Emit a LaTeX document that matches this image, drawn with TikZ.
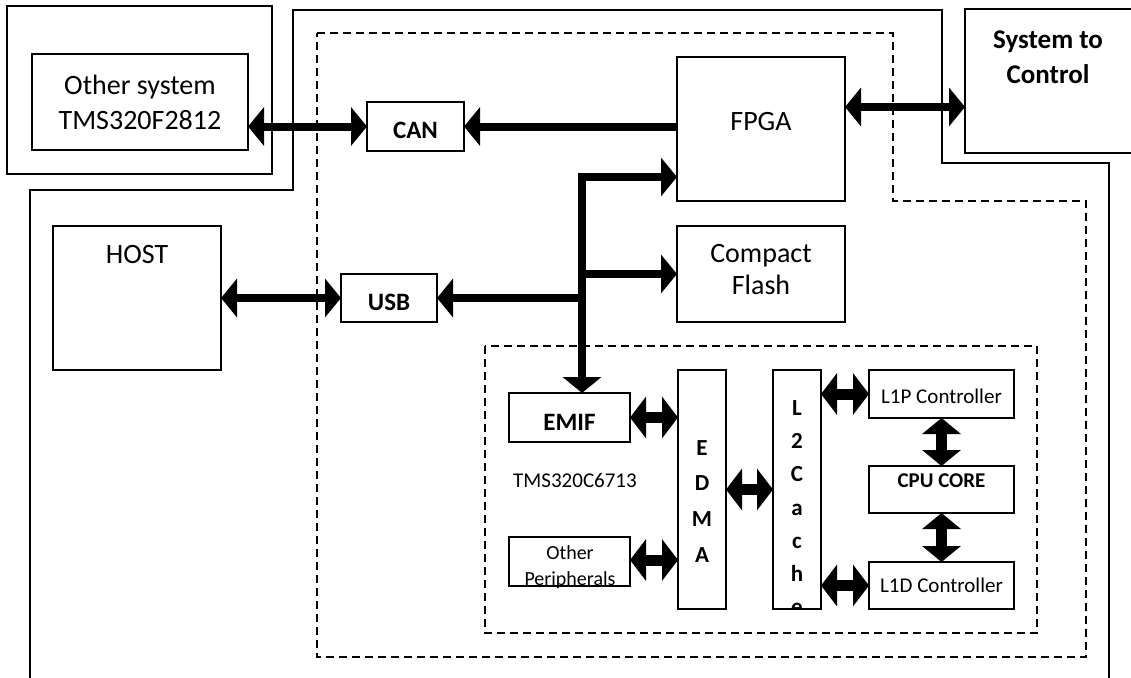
\documentclass[tikz,border=0pt]{standalone}
\usepackage{fontspec}
\setmainfont{Carlito}
\usetikzlibrary{arrows.meta,calc}
\tikzset{
  box/.style={draw, line width=1.2pt, rectangle, inner sep=0pt, outer sep=0pt, anchor=north west},
  frame/.style={line width=1.4pt},
  dashframe/.style={line width=1.2pt, dash pattern=on 8pt off 5pt},
  bigtip/.tip={Triangle[length=16pt,width=38pt]},
  blktip/.tip={Triangle[length=16pt,width=41pt]},
  fat/.style={line width=8pt},
  blk/.style={line width=11pt},
  lbl/.style={font=\fontsize{28}{35}\selectfont, align=center, inner sep=0pt},
  blbl/.style={font=\fontsize{25}{30}\selectfont\bfseries, align=center, inner sep=0pt},
  sm/.style={font=\fontsize{21}{26}\selectfont, align=center, inner sep=0pt},
  smb/.style={font=\fontsize{21}{26}\selectfont\bfseries, align=center, inner sep=0pt},
}
\begin{document}
\begin{tikzpicture}[x=1pt,y=-1pt]
\useasboundingbox (0,0) rectangle (1131,677);
\fill[white] (0,0) rectangle (1131,677);

% frames
\draw[frame] (30,690) -- (30,190) -- (293,190) -- (293,10) -- (942,10) -- (942,163) -- (1109,163) -- (1109,690);
\draw[dashframe] (317,33) -- (893,33) -- (893,201) -- (1086,201) -- (1086,657) -- (317,657) -- cycle;
\draw[dashframe] (485,346) rectangle (1037,633);

% boxes
\node[box, minimum width=265pt, minimum height=168pt] (othersys) at (7,6) {};
\node[box, minimum width=216pt, minimum height=96pt] (other) at (32,54) {};
\node[box, minimum width=97pt, minimum height=49pt] (can) at (367,102) {};
\node[box, minimum width=168pt, minimum height=144pt] (fpga) at (677,57) {};
\node[box, minimum width=175pt, minimum height=144pt] (sys) at (965,9) {};
\node[box, minimum width=168pt, minimum height=96pt] (cf) at (677,226) {};
\node[box, minimum width=96pt, minimum height=48pt] (usb) at (341,274) {};
\node[box, minimum width=168pt, minimum height=144pt] (host) at (53,226) {};
\node[box, minimum width=121pt, minimum height=49pt] (emif) at (509,393) {};
\node[box, minimum width=121pt, minimum height=49pt] (per) at (509,537) {};
\node[box, minimum width=48pt, minimum height=239pt] (edma) at (678,370) {};
\node[box, minimum width=48pt, minimum height=239pt] (l2) at (773,370) {};
\node[box, minimum width=145pt, minimum height=48pt] (l1p) at (869,370) {};
\node[box, minimum width=145pt, minimum height=47pt] (cpu) at (869,466) {};
\node[box, minimum width=145pt, minimum height=47pt] (l1d) at (869,562) {};

% texts
\node[lbl] (othertxt) at (other.center) {Other system\\TMS320F2812};
\node[blbl, font=\fontsize{27}{35}\selectfont\bfseries, anchor=north] (systxt) at (1048,31) {System to\\Control};
\node[lbl] (fpgatxt) at (761,122) {FPGA};
\node[lbl, font=\fontsize{28}{32}\selectfont, anchor=north] (cftxt) at (761,244) {Compact\\Flash};
\node[lbl, anchor=base] (hosttxt) at (137,263) {HOST};
\node[blbl, anchor=base] (cantxt) at (415.5,138) {CAN};
\node[blbl, anchor=base] (usbtxt) at (389,310) {USB};
\node[blbl, anchor=base] (emiftxt) at (569.5,430) {EMIF};
\node[sm] (dsptxt) at (575,480) {TMS320C6713};
\node[sm, font=\fontsize{20}{26}\selectfont] (pertxt) at (570,567) {Other\\Peripherals};
\node[smb, font=\fontsize{23}{35.7}\selectfont\bfseries, anchor=north] (edmatxt) at (702,440) {E\\D\\M\\A};
\begin{scope}
  \clip (l2.north west) rectangle (l2.south east);
  \node[smb, font=\fontsize{23}{33.3}\selectfont\bfseries, anchor=north] (l2txt) at (797,400) {L\\2\\C\\a\\c\\h\\e};
\end{scope}
\node[sm] (l1ptxt) at (941.5,396) {L1P Controller};
\node[smb] (cputxt) at (941.5,481) {CPU CORE};
\node[sm] (l1dtxt) at (941.5,585.5) {L1D Controller};

% connectors
\draw[fat, bigtip-bigtip] (other.east |- can.west) -- (can.west);
\draw[fat, -bigtip] (fpga.west |- can.east) -- (can.east);
\coordinate (fs) at ([yshift=22pt]fpga.east);
\draw[fat, bigtip-bigtip] (fs) -- (fs -| sys.west);
\draw[fat, bigtip-bigtip] (host.east) -- (usb.west);
\coordinate (bt) at (582,177);
\draw[fat, bigtip-bigtip, line join=miter] (bt |- emif.north) -- (bt) -- (bt -| fpga.west);
\draw[fat, -bigtip] (bt |- cf.west) -- (cf.west);
\draw[fat, -bigtip] (bt |- usb.east) -- (usb.east);

\draw[blk, blktip-blktip] (emif.east) -- (emif.east -| edma.west);
\draw[blk, blktip-blktip] ([yshift=1.5pt]per.east) -- ([yshift=1.5pt]per.east -| edma.west);
\draw[blk, blktip-blktip] (edma.east) -- (l2.west);
\draw[blk, blktip-blktip] (l1p.west -| l2.east) -- (l1p.west);
\draw[blk, blktip-blktip] (l1d.west -| l2.east) -- (l1d.west);
\draw[blk, bigtip-bigtip] (l1p.south) -- (cpu.north);
\draw[blk, bigtip-bigtip] (cpu.south) -- (l1d.north);
\end{tikzpicture}
\end{document}
